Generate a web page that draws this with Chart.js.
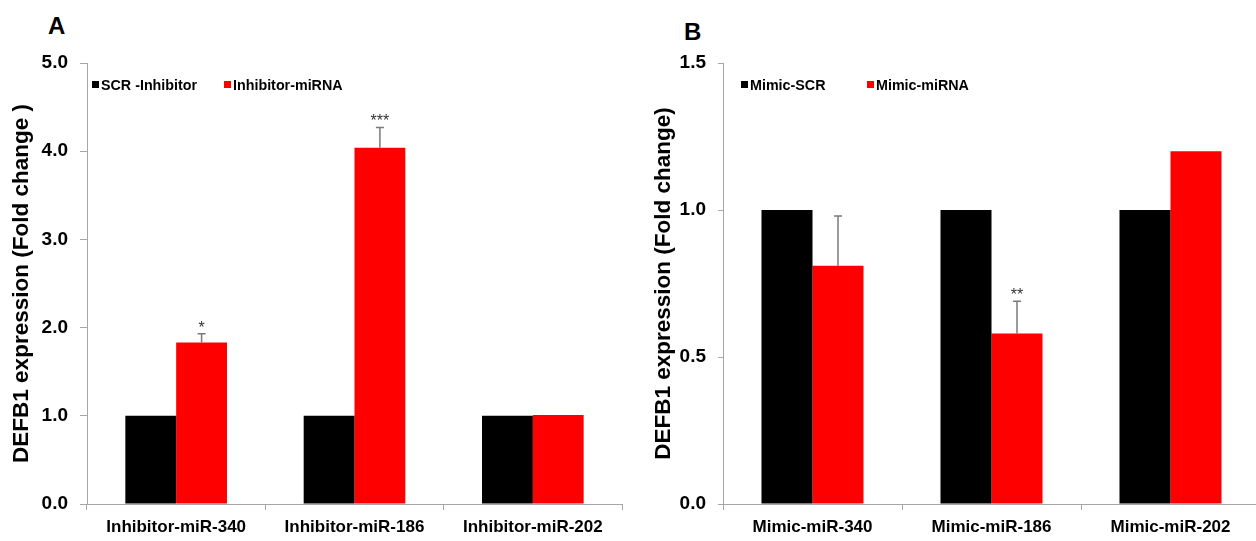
<!DOCTYPE html>
<html>
<head>
<meta charset="utf-8">
<script src="https://cdn.jsdelivr.net/npm/chart.js@4.4.0/dist/chart.umd.min.js"></script>
<style>
  html, body { margin: 0; padding: 0; background: #fff; overflow: hidden; width: 1256px; height: 541px; }
  .panel { position: absolute; top: 0; }
  .letter { position: absolute; font: bold 24px "Liberation Sans", Arial, sans-serif; line-height: 24px; color: #000; }
</style>
</head>
<body>
<div class="letter" style="left:48px; top:14px;">A</div>
<div class="letter" style="left:684px; top:20px;">B</div>
<div class="panel" style="left:0px;"><canvas id="cA" width="628" height="541"></canvas></div>
<div class="panel" style="left:628px;"><canvas id="cB" width="632" height="541"></canvas></div>
<script>
// ---------- data ----------
const categoriesA = ['Inhibitor-miR-340', 'Inhibitor-miR-186', 'Inhibitor-miR-202'];
const scrInhibitor = [1.0, 1.0, 1.0];
const inhibitorMiRNA = [1.83, 4.04, 1.01];
const inhibitorErr = [0.10, 0.23, 0];
const inhibitorSig = ['*', '***', ''];
const seriesNamesA = ['SCR -Inhibitor', 'Inhibitor-miRNA'];

const categoriesB = ['Mimic-miR-340', 'Mimic-miR-186', 'Mimic-miR-202'];
const mimicSCR = [1.0, 1.0, 1.0];
const mimicMiRNA = [0.81, 0.58, 1.20];
const mimicErr = [0.17, 0.11, 0];
const mimicSig = ['', '**', ''];
const seriesNamesB = ['Mimic-SCR', 'Mimic-miRNA'];

const yTitleA = 'DEFB1 expression (Fold change )';
const yTitleB = 'DEFB1 expression (Fold change)';

// ---------- styling ----------
const FONT = '"Liberation Sans", Arial, sans-serif';
const AXIS_GRAY = '#a6a6a6';

const overlayPlugin = {
  id: 'overlay',
  afterDatasetsDraw(chart, args, opts) {
    const ctx = chart.ctx;
    const ys = chart.scales.y;
    const meta = chart.getDatasetMeta(1);
    const vals = chart.data.datasets[1].data;
    ctx.save();
    opts.errors.forEach((e, i) => {
      const bar = meta.data[i];
      const v = vals[i];
      const yTop = ys.getPixelForValue(v + e);
      if (e > 0) {
        ctx.strokeStyle = '#7a7a7a';
        ctx.lineWidth = 1.5;
        ctx.beginPath();
        ctx.moveTo(bar.x, bar.y);
        ctx.lineTo(bar.x, yTop);
        ctx.moveTo(bar.x - 4, yTop);
        ctx.lineTo(bar.x + 4, yTop);
        ctx.stroke();
      }
      const s = opts.sig[i];
      if (s) {
        ctx.fillStyle = '#333';
        ctx.font = '16px ' + FONT;
        ctx.textAlign = 'center';
        ctx.textBaseline = 'alphabetic';
        ctx.fillText(s, bar.x, yTop - 1);
      }
    });
    ctx.restore();
  },
  afterDraw(chart, args, opts) {
    const ctx = chart.ctx;
    ctx.save();
    ctx.font = 'bold 14.3px ' + FONT;
    ctx.textAlign = 'left';
    ctx.textBaseline = 'alphabetic';
    chart.data.datasets.forEach((ds, k) => {
      const x = opts.legendX[k];
      const yc = opts.legendY;
      ctx.fillStyle = ds.backgroundColor;
      ctx.fillRect(x, yc - 3.5, 7, 7);
      ctx.fillStyle = '#000';
      ctx.fillText(ds.label, x + 9, yc + 5);
    });
    ctx.restore();
  }
};

function makeChart(id, cats, s1, s2, names, err, sig, yMax, yStep, yTitle, yWidth, tickLen, titlePad, padRight, legendX) {
  return new Chart(document.getElementById(id), {
    type: 'bar',
    data: {
      labels: cats,
      datasets: [
        { label: names[0], data: s1, backgroundColor: '#000000', borderWidth: 0 },
        { label: names[1], data: s2, backgroundColor: '#ff0000', borderWidth: 0 }
      ]
    },
    options: {
      responsive: false,
      animation: false,
      devicePixelRatio: 1,
      barPercentage: 1.0,
      categoryPercentage: 0.57,
      layout: { padding: { top: 63, left: 0, right: padRight, bottom: 0 } },
      plugins: {
        legend: { display: false },
        tooltip: { enabled: false },
        overlay: { errors: err, sig: sig, legendX: legendX, legendY: 84.5 }
      },
      scales: {
        x: {
          afterFit: (s) => { s.height = 37; },
          grid: { display: true, drawOnChartArea: false, drawTicks: true, tickLength: 6, color: AXIS_GRAY, offset: true },
          border: { display: true, color: AXIS_GRAY, width: 1 },
          ticks: { color: '#000', font: { family: FONT, size: 17, weight: 'bold' }, padding: 7, maxRotation: 0 }
        },
        y: {
          min: 0, max: yMax,
          afterFit: (s) => { s.width = yWidth; },
          grid: { display: true, drawOnChartArea: false, drawTicks: true, tickLength: tickLen, color: AXIS_GRAY },
          border: { display: true, color: AXIS_GRAY, width: 1 },
          ticks: {
            stepSize: yStep,
            color: '#000',
            padding: 12,
            font: { family: FONT, size: 19, weight: 'bold' },
            callback: (v) => Number(v).toFixed(1)
          },
          title: {
            display: true, text: yTitle, color: '#000',
            font: { family: FONT, size: 22.5, weight: 'bold', lineHeight: 1.0 },
            padding: { top: titlePad, bottom: 0 }
          }
        }
      }
    },
    plugins: [overlayPlugin]
  });
}

makeChart('cA', categoriesA, scrInhibitor, inhibitorMiRNA, seriesNamesA, inhibitorErr, inhibitorSig,
  5, 1, yTitleA, 87, 7, 11, 6, [92, 224]);
makeChart('cB', categoriesB, mimicSCR, mimicMiRNA, seriesNamesB, mimicErr, mimicSig,
  1.5, 0.5, yTitleB, 95, 5, 25, 0, [113, 239]);
</script>
</body>
</html>
